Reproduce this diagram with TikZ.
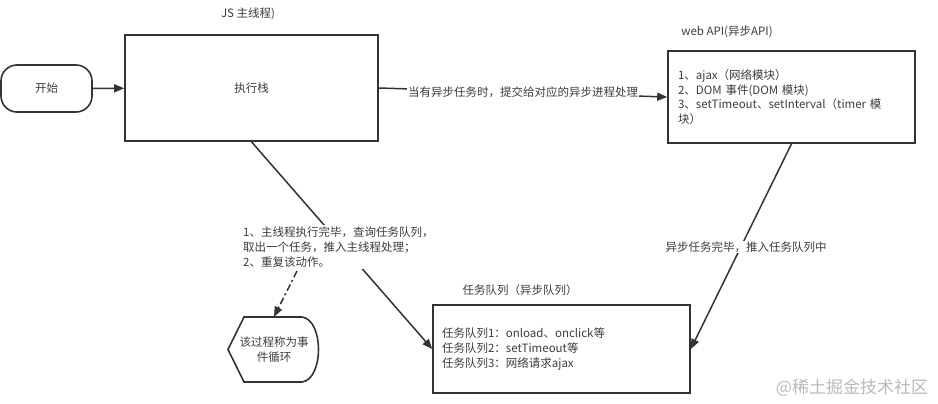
\documentclass[tikz,border=0pt]{standalone}
\usepackage{fontspec}
\setmainfont{Noto Sans CJK SC}
\usetikzlibrary{arrows.meta}
\definecolor{ln}{HTML}{333333}
\definecolor{tx}{HTML}{3c3c3c}
\begin{document}
\begin{tikzpicture}[x=1pt,y=-1pt,
  txt/.style={text=tx,font=\fontsize{11.5}{14.7}\selectfont,inner sep=0pt},
  boxsty/.style={draw=ln,line width=1.6pt,txt},
  arr/.style={draw=ln,line width=1.5pt,-{Triangle[length=10pt,width=8pt]}},
  dashdot/.style={draw=ln,line width=1.5pt,dash pattern=on 7pt off 3pt on 2pt off 3pt,-{Triangle[length=10pt,width=8pt]}}
]
\useasboundingbox (0,0) rectangle (938,404);
% nodes
\node[boxsty,rounded corners=16pt,minimum width=91pt,minimum height=47pt] (start) at (46.5,88.5) {开始};
\node[boxsty,minimum width=253pt,minimum height=106pt] (main) at (251.5,88) {执行栈};
\node[txt] (jsl) at (248,14) {JS 主线程)};
\node[boxsty,minimum width=247pt,minimum height=92pt,text width=227pt,align=left,inner xsep=10pt] (web) at (791.5,97) {1、ajax（网络模块）\\2、DOM 事件(DOM 模块)\\3、setTimeout、setInterval（timer 模\\块）};
\node[txt] (webl) at (727,32) {web API(异步API)};
\node[boxsty,minimum width=257pt,minimum height=88pt,text width=239pt,align=left,inner xsep=9pt] (queue) at (561.5,349) {任务队列1：onload、onclick等\\任务队列2：setTimeout等\\任务队列3：网络请求ajax};
\node[txt] (queuel) at (520,290) {任务队列（异步队列）};
\node[txt,align=center,minimum width=92pt,minimum height=65pt] (loop) at (274,349.5) {该过程称为事\\件循环};
\draw[draw=ln,line width=1.6pt] (244,317) -- (302,317) .. controls (324,320) and (324,379) .. (302,382) -- (244,382) -- (228,349.5) -- cycle;
% connectors
\draw[arr] (start) -- (main);
\draw[arr] (main.east) -- (web.west) node[midway,txt,fill=white,inner sep=1pt] (lbl1) {当有异步任务时，提交给对应的异步进程处理};
\draw[arr] (main.south) -- (queue.west);
\node[txt,fill=white,align=left,inner sep=2pt,anchor=west] (lbl2) at (241,247) {1、主线程执行完毕，查询任务队列，\\取出一个任务，推入主线程处理；\\2、重复该动作。};
\coordinate (dstart) at (297,271);
\draw[dashdot] (dstart) -- (loop.north);
\draw[arr] (web.south) -- (queue.east);
\node[txt,fill=white,inner sep=1pt] (lbl3) at (746,247) {异步任务完毕，推入任务队列中};
\node[text=gray!55,font=\fontsize{17}{17}\selectfont,inner sep=0pt] (wm) at (852,388) {@稀土掘金技术社区};
\end{tikzpicture}
\end{document}
